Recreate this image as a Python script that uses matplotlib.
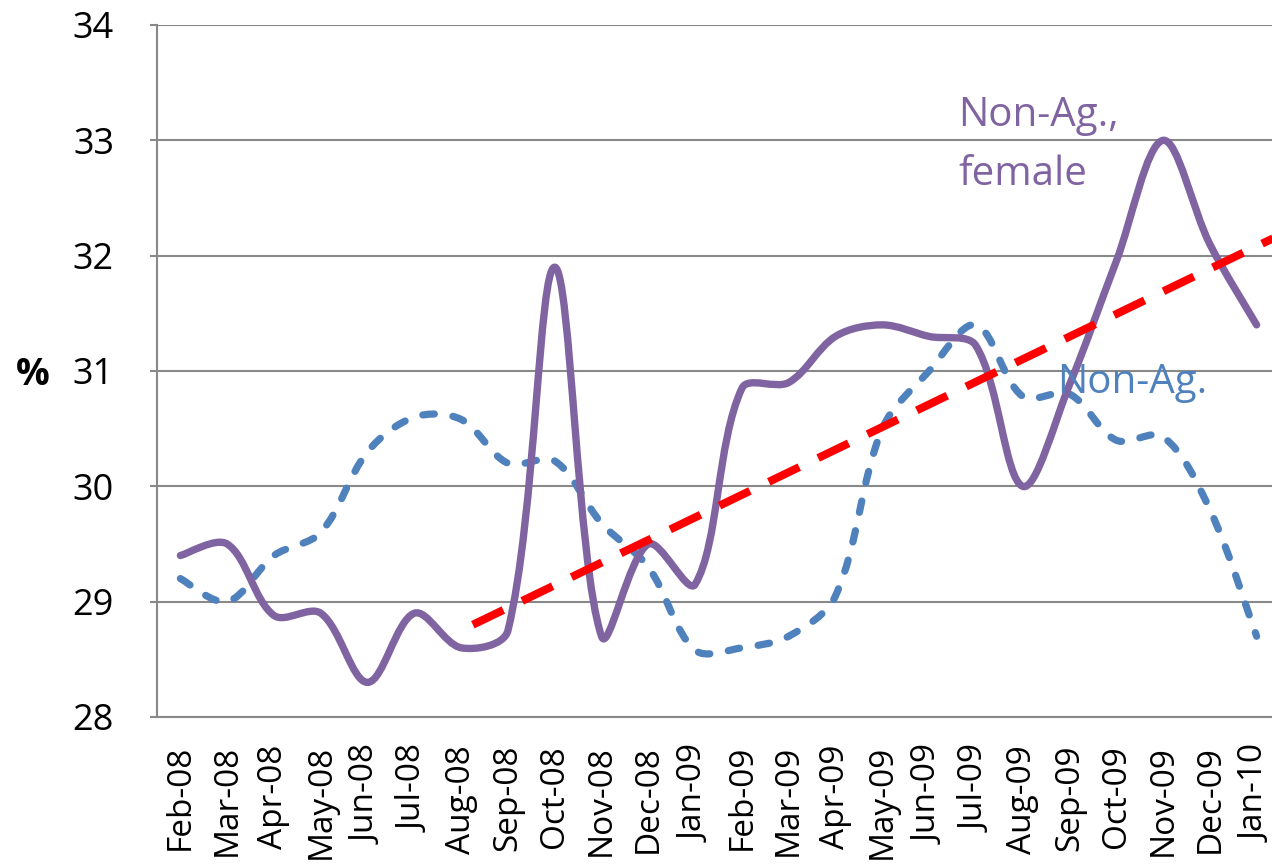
import numpy as np
import matplotlib
matplotlib.use("Agg")
from matplotlib import pyplot as plt
from matplotlib.path import Path
from matplotlib.patches import PathPatch

months = ["Feb-08", "Mar-08", "Apr-08", "May-08", "Jun-08", "Jul-08", "Aug-08", "Sep-08",
          "Oct-08", "Nov-08", "Dec-08", "Jan-09", "Feb-09", "Mar-09", "Apr-09", "May-09",
          "Jun-09", "Jul-09", "Aug-09", "Sep-09", "Oct-09", "Nov-09", "Dec-09", "Jan-10"]
female = [29.4, 29.5, 28.88, 28.9, 28.3, 28.9, 28.6, 28.75, 31.9, 28.7, 29.5, 29.15,
          30.85, 30.9, 31.3, 31.4, 31.3, 31.22, 30.0, 30.88, 31.95, 33.0, 32.1, 31.4]
nonag = [29.2, 29.0, 29.4, 29.6, 30.3, 30.6, 30.58, 30.2, 30.22, 29.68, 29.3, 28.58,
         28.6, 28.7, 29.05, 30.5, 31.0, 31.4, 30.78, 30.8, 30.4, 30.43, 29.8, 28.7]
# hand-drawn trend line (start / end)
trend_x = [6.25, 23.35]
trend_y = [28.8, 32.15]

purple = "#8064A2"
blue = "#4F81BD"
grid_col = "#898989"

YSCALE = 115.3 / 46.79   # pixel aspect of one y unit vs one category


def smooth_path(y):
    # excel-like smoothed line: bezier segments through every point,
    # tangent length weighted by neighbouring segment lengths
    x = np.arange(len(y), dtype=float)
    y = np.asarray(y, dtype=float)
    pts = np.column_stack([x, y])
    n = len(pts)

    def dist(a, b):
        return np.hypot(b[0] - a[0], (b[1] - a[1]) * YSCALE)

    verts = [pts[0]]
    codes = [Path.MOVETO]
    for i in range(n - 1):
        p0 = pts[i - 1] if i > 0 else pts[i]
        p1 = pts[i]
        p2 = pts[i + 1]
        p3 = pts[i + 2] if i + 2 < n else pts[i + 1]
        d01, d12, d23 = dist(p0, p1), dist(p1, p2), dist(p2, p3)
        if i == 0:
            c1 = p1 + (p2 - p0) / 6.0
        else:
            c1 = p1 + (p2 - p0) / 3.0 * d12 / (d01 + d12)
        if i + 2 >= n:
            c2 = p2 - (p3 - p1) / 6.0
        else:
            c2 = p2 - (p3 - p1) / 3.0 * d12 / (d12 + d23)
        verts += [c1, c2, p2]
        codes += [Path.CURVE4] * 3
    return Path(verts, codes)


fig = plt.figure(figsize=(12.72, 8.67), dpi=100)
ax = fig.add_axes([157 / 1272, 150 / 867, 1123 / 1272, 692 / 867])
ax.set_xlim(-0.5, len(months) - 0.5)
ax.set_ylim(28, 34)

ax.set_yticks(range(28, 35))
ax.grid(True, axis="y", color=grid_col, lw=1.5)
ax.set_axisbelow(True)
for s in ["top", "right"]:
    ax.spines[s].set_visible(False)
for s in ["left", "bottom"]:
    ax.spines[s].set_color(grid_col)
    ax.spines[s].set_linewidth(1.5)

ax.set_xticks(range(len(months)))
ax.set_xticklabels(months, rotation=90, fontsize=24, family="Open Sans", va="top")
ax.tick_params(axis="x", length=0, pad=20)
ax.tick_params(axis="y", length=5, width=1.5, color=grid_col, pad=26, labelsize=26)
for lab in ax.get_yticklabels():
    lab.set_family("Open Sans")

p_blue = PathPatch(smooth_path(nonag), fill=False, edgecolor=blue, lw=5.2,
                   linestyle=(0, (1.6, 2.6)), capstyle="round", joinstyle="round")
ax.add_patch(p_blue)

p_fem = PathPatch(smooth_path(female), fill=False, edgecolor=purple, lw=5.3,
                  capstyle="round", joinstyle="round")
ax.add_patch(p_fem)

ax.plot(trend_x, trend_y, color="red", lw=5.8, linestyle=(0, (4.2, 2.6)),
        solid_capstyle="butt", dash_capstyle="butt")

ax.text(16.62, 33.12, "Non-Ag.,", color=purple, fontsize=29, family="Open Sans",
        va="baseline", ha="left")
ax.text(16.62, 32.61, "female", color=purple, fontsize=29, family="Open Sans",
        va="baseline", ha="left")
ax.text(18.73, 30.81, "Non-Ag.", color=blue, fontsize=29, family="Open Sans",
        va="baseline", ha="left")

fig.text(33 / 1272, 1 - 375 / 867, "%", fontsize=27, fontweight="bold",
         family="Open Sans", ha="center", va="center")

fig.savefig("out.png", dpi=100)
